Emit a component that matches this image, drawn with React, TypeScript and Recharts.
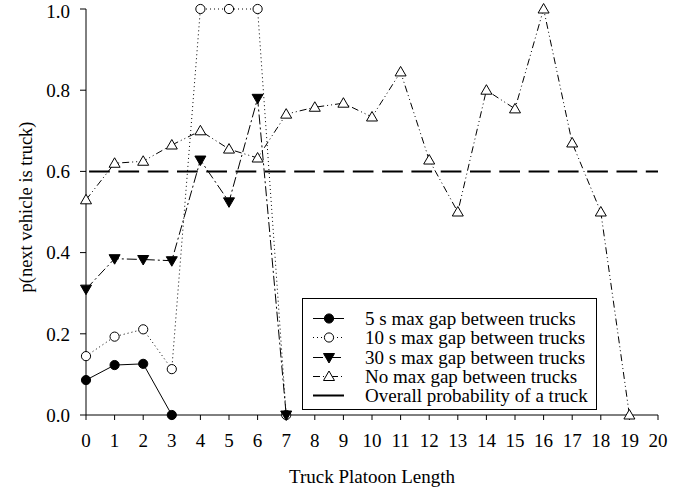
import { LineChart, Line, XAxis, YAxis, ReferenceLine } from "recharts";

const PLATOON_LENGTH = [0, 1, 2, 3, 4, 5, 6, 7, 8, 9, 10, 11, 12, 13, 14, 15, 16, 17, 18, 19, 20];
const GAP_5S = [0.086, 0.123, 0.126, 0.0];
const GAP_10S = [0.145, 0.193, 0.211, 0.113, 1.0, 1.0, 1.0, 0.0];
const GAP_30S = [0.31, 0.385, 0.383, 0.38, 0.628, 0.525, 0.78, 0.0];
const NO_MAX = [0.53, 0.62, 0.625, 0.665, 0.7, 0.655, 0.633, 0.741, 0.758, 0.768, 0.734, 0.845, 0.628, 0.5, 0.8, 0.754, 1.0, 0.67, 0.5, 0.0];
const OVERALL = 0.6;
const Y_TICKS = [0, 0.2, 0.4, 0.6, 0.8, 1.0];

const FONT = "'Liberation Serif', 'DejaVu Serif', serif";

const data = PLATOON_LENGTH.map((x, i) => ({
  x,
  s5: GAP_5S[i] ?? null,
  s10: GAP_10S[i] ?? null,
  s30: GAP_30S[i] ?? null,
  none: NO_MAX[i] ?? null,
}));

type MarkerKind = "filledCircle" | "openCircle" | "filledTriDown" | "openTriUp";

const Marker = ({ kind, cx, cy }: { kind: MarkerKind; cx: number; cy: number }) => {
  if (kind === "filledCircle") return <circle cx={cx} cy={cy} r={4.6} fill="#000" stroke="#000" />;
  if (kind === "openCircle") return <circle cx={cx} cy={cy} r={4.6} fill="#fff" stroke="#000" strokeWidth={1} />;
  if (kind === "filledTriDown")
    return <polygon points={`${cx - 5.5},${cy - 4} ${cx + 5.5},${cy - 4} ${cx},${cy + 5.5}`} fill="#000" stroke="#000" />;
  return <polygon points={`${cx - 5.5},${cy + 4} ${cx + 5.5},${cy + 4} ${cx},${cy - 5.5}`} fill="#fff" stroke="#000" strokeWidth={1} />;
};

const dotFor = (kind: MarkerKind) => (props: any) => {
  const { cx, cy, index, value } = props;
  if (cx == null || cy == null || value == null) return <g key={`${kind}-${index}`} />;
  return (
    <g key={`${kind}-${index}`}>
      <Marker kind={kind} cx={cx} cy={cy} />
    </g>
  );
};

const LEGEND_ITEMS: { label: string; kind?: MarkerKind; dash: string }[] = [
  { label: "5 s max gap between trucks", kind: "filledCircle", dash: "" },
  { label: "10 s max gap between trucks", kind: "openCircle", dash: "1 3" },
  { label: "30 s max gap between trucks", kind: "filledTriDown", dash: "10 3 2 3" },
  { label: "No max gap between trucks", kind: "openTriUp", dash: "7 3 1 3 1 3" },
  { label: "Overall probability of a truck", dash: "" },
];

const LegendBox = () => (
  <div
    style={{
      position: "absolute",
      left: 302,
      top: 298,
      border: "1px solid #000",
      background: "#fff",
      width: 295,
      height: 112,
      boxSizing: "border-box",
      paddingTop: 10,
      fontFamily: FONT,
      fontSize: 19,
      color: "#000",
    }}
  >
    {LEGEND_ITEMS.map((it) => (
      <div key={it.label} style={{ display: "flex", alignItems: "center", height: 19.3 }}>
        <svg width={62} height={19} style={{ flex: "none" }}>
          <line x1={10} x2={41} y1={9.5} y2={9.5} stroke="#000" strokeWidth={it.kind ? 1 : 2} strokeDasharray={it.dash || undefined} />
          {it.kind && <Marker kind={it.kind} cx={26} cy={9.5} />}
        </svg>
        <span style={{ lineHeight: "19px", whiteSpace: "nowrap" }}>{it.label}</span>
      </div>
    ))}
  </div>
);

const YLabel = () => (
  <text x={26} y={207} transform="rotate(-90 26 207)" textAnchor="middle" dominantBaseline="central" fontFamily={FONT} fontSize={18.5} fill="#000">
    p(next vehicle is truck)
  </text>
);

const XLabel = () => (
  <text x={372} y={483} textAnchor="middle" fontFamily={FONT} fontSize={19} fill="#000">
    Truck Platoon Length
  </text>
);

export default function App() {
  return (
    <div style={{ position: "fixed", left: 0, top: 0, width: 690, height: 490, background: "#fff" }}>
      <LineChart width={690} height={490} data={data} margin={{ top: 9, right: 32, bottom: 0, left: 0 }}>
        <XAxis
          dataKey="x"
          type="number"
          domain={[0, 20]}
          ticks={PLATOON_LENGTH}
          interval={0}
          stroke="#000"
          tickSize={5}
          tickMargin={14}
          height={75}
          tick={{ fill: "#000", fontFamily: FONT, fontSize: 19 }}
          label={<XLabel />}
        />
        <YAxis
          type="number"
          domain={[0, 1]}
          ticks={Y_TICKS}
          width={86}
          stroke="#000"
          tickSize={6}
          tickMargin={10}
          tickFormatter={(v: number) => v.toFixed(1)}
          tick={{ fill: "#000", fontFamily: FONT, fontSize: 19 }}
          label={<YLabel />}
        />
        <ReferenceLine y={OVERALL} stroke="#000" strokeWidth={2} strokeDasharray="20.7 8.6" strokeDashoffset={26.2} ifOverflow="visible" />
        <Line dataKey="s5" stroke="#000" strokeWidth={1} dot={dotFor("filledCircle")} isAnimationActive={false} connectNulls={false} />
        <Line dataKey="s10" stroke="#000" strokeWidth={1} strokeDasharray="1 3" dot={dotFor("openCircle")} isAnimationActive={false} connectNulls={false} />
        <Line dataKey="s30" stroke="#000" strokeWidth={1} strokeDasharray="10 3 2 3" dot={dotFor("filledTriDown")} isAnimationActive={false} connectNulls={false} />
        <Line dataKey="none" stroke="#000" strokeWidth={1} strokeDasharray="7 3 1 3 1 3" dot={dotFor("openTriUp")} isAnimationActive={false} connectNulls={false} />
      </LineChart>
      <LegendBox />
    </div>
  );
}
